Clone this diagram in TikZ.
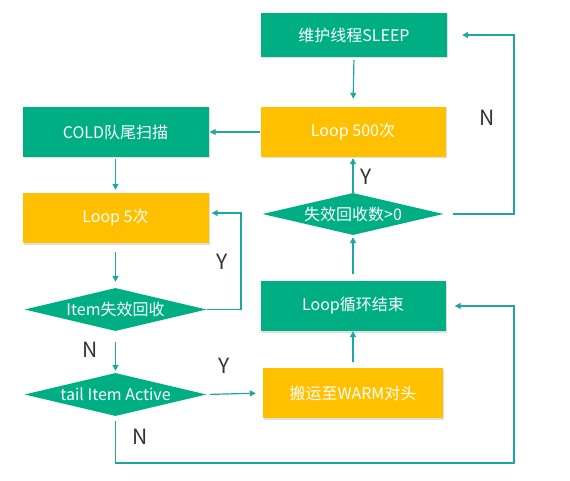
\documentclass[tikz,border=0pt]{standalone}
\usepackage{fontspec}
\setmainfont{Noto Sans CJK SC}
\usetikzlibrary{shapes.geometric,arrows.meta,shadows}
\definecolor{boxgreen}{HTML}{00AE84}
\definecolor{boxyellow}{HTML}{FFC000}
\definecolor{linkteal}{HTML}{1FA6A0}
\definecolor{labelgray}{HTML}{333333}
\tikzset{
  greenbox/.style={rectangle, fill=boxgreen, text=white, font=\fontsize{16}{19}\selectfont,
    inner sep=0pt, drop shadow={shadow xshift=1pt, shadow yshift=-1.5pt, opacity=0.25}},
  yellowbox/.style={rectangle, fill=boxyellow, text=white, font=\fontsize{16}{19}\selectfont,
    inner sep=0pt, drop shadow={shadow xshift=1pt, shadow yshift=-1.5pt, opacity=0.25}},
  decision/.style={diamond, fill=boxgreen, text=white, font=\fontsize{16}{19}\selectfont,
    inner sep=0pt, shape aspect=4, minimum width=182pt, minimum height=43pt},
  link/.style={draw=linkteal, line width=1.2pt, -{Triangle[length=6pt,width=6pt]}},
  yn/.style={text=labelgray, font=\fontsize{21}{24}\selectfont, inner sep=0pt}
}
\begin{document}
\begin{tikzpicture}[x=1pt,y=-1pt]
\useasboundingbox (0,0) rectangle (570,481);
\node[greenbox, minimum width=186pt, minimum height=44pt] (sleep) at (354,35) {维护线程SLEEP};
\node[yellowbox, minimum width=185pt, minimum height=50pt] (l500) at (353,132) {Loop 500次};
\node[greenbox, minimum width=186pt, minimum height=50pt] (cold) at (115.5,132) {COLD队尾扫描};
\node[yellowbox, minimum width=186pt, minimum height=50pt] (l5) at (115.5,218) {Loop 5次};
\node[decision, minimum width=181pt, minimum height=42pt] (dec) at (353,214) {失效回收数>0};
\node[decision] (item) at (115.5,309.5) {Item失效回收};
\node[decision] (tail) at (115.5,394.5) {tail Item Active};
\node[greenbox, minimum width=185pt, minimum height=50pt] (lend) at (353,306) {Loop循环结束};
\node[yellowbox, minimum width=180pt, minimum height=50pt] (warm) at (353,393) {搬运至WARM对头};

\coordinate (rtop) at (514,35);
\coordinate (rmid) at (514,306);
\coordinate (fb) at (241,213);

\draw[link, shorten <=3pt, shorten >=8pt] (sleep.south) -- (l500.north);
\draw[link, shorten >=1pt] (l500.west) -- (cold.east);
\draw[link, shorten <=2pt, shorten >=3pt] (cold.south) -- (l5.north);
\draw[link, shorten >=1pt] (dec.north) -- (l500.south);
\draw[link, shorten <=9pt, shorten >=15pt] (dec.east) -- (dec.east -| rtop) -- (rtop) -- (sleep.east);
\draw[link, shorten <=9pt, shorten >=6pt] (l5.south) -- (item.north);
\draw[link, shorten >=3pt] (item.east) -- (item.east -| fb) -- (fb) -- (fb -| l5.east);
\draw[link, shorten <=11pt, shorten >=2pt] (item.south) -- (tail.north);
\draw[link, shorten <=3pt, shorten >=7pt] (tail.east) -- (warm.west);
\draw[link, shorten <=6pt] (warm.north) -- (lend.south);
\draw[link, shorten <=7pt, shorten >=2pt] (lend.north) -- (dec.south);
\draw[link, shorten <=5pt, shorten >=9pt] (tail.south) -- (tail.south |- 0,463) -- (rmid |- 0,463) -- (rmid) -- (lend.east);

\node[yn] (y1) at (366,177) {Y};
\node[yn] (n1) at (487,118) {N};
\node[yn] (y2) at (222,262) {Y};
\node[yn] (n2) at (90,350) {N};
\node[yn] (y3) at (224,366) {Y};
\node[yn] (n3) at (140,437) {N};
\end{tikzpicture}
\end{document}
